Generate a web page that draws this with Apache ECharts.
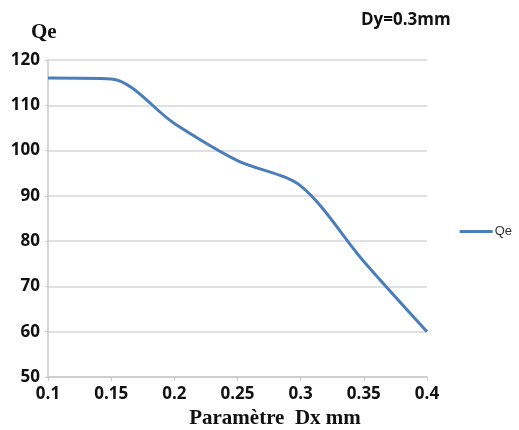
<!DOCTYPE html>
<html><head><meta charset="utf-8">
<script src="https://cdn.jsdelivr.net/npm/echarts@6/dist/echarts.min.js"></script>
<style>html,body{margin:0;padding:0;background:#fff}#c{width:519px;height:430px}</style>
</head><body><div id="c"></div>
<script>
const dx = [0.1, 0.15, 0.2, 0.25, 0.3, 0.35, 0.4];
const qe = [116, 115.8, 106, 97.8, 92.2, 75.5, 60];
const yTicks = [50, 60, 70, 80, 90, 100, 110, 120];
const xTicks = [0.1, 0.15, 0.2, 0.25, 0.3, 0.35, 0.4];

const chart = echarts.init(document.getElementById('c'));
chart.setOption({
  animation: false,
  title: [
    {text: 'Qe', left: 26, top: 17, textStyle: {fontFamily: 'Liberation Serif', fontWeight: 'bold', fontSize: 21, color: '#111'}},
    {text: 'Dy=0.3mm', left: 356, top: 7, textStyle: {fontFamily: 'Open Sans', fontWeight: 'bold', fontSize: 17, color: '#111'}}
  ],
  legend: {
    data: ['Qe'], right: 2, top: 220, orient: 'vertical', icon: 'rect',
    itemWidth: 33, itemHeight: 3, itemGap: 3,
    textStyle: {fontFamily: 'Liberation Sans', fontSize: 13, color: '#333', padding: [0,0,0,-3]}
  },
  grid: {left: 48, right: 92, top: 60, bottom: 53, containLabel: false, outerBoundsMode: 'none'},
  xAxis: {
    type: 'value', min: 0.1, max: 0.4, interval: 0.05,
    name: 'Paramètre  Dx mm', nameLocation: 'middle', nameGap: 30,
    nameTextStyle: {fontFamily: 'Liberation Serif', fontWeight: 'bold', fontSize: 21, color: '#111', padding: [0,0,0,75]},
    axisLine: {lineStyle: {color: '#c8c8c8', width: 1.5}},
    axisTick: {show: true, length: 4, lineStyle: {color: '#c8c8c8'}},
    splitLine: {show: false},
    axisLabel: {fontFamily: 'Open Sans', fontWeight: 'bold', fontSize: 17, color: '#111', margin: 9,
      formatter: v => { const t = xTicks.find(x => Math.abs(x - v) < 1e-9); return t === undefined ? '' : String(t); }}
  },
  yAxis: {
    type: 'value', min: 50, max: 120, interval: 10,
    axisLine: {show: true, lineStyle: {color: '#c8c8c8', width: 1.5}},
    axisTick: {show: true, length: 3, lineStyle: {color: '#c8c8c8'}},
    splitLine: {lineStyle: {color: '#d6d6d6', width: 1.5}},
    axisLabel: {fontFamily: 'Open Sans', fontWeight: 'bold', fontSize: 17, color: '#111', margin: 8,
      formatter: v => yTicks.includes(v) ? String(v) : ''}
  },
  series: [{
    name: 'Qe', type: 'line', smooth: 0.3, showSymbol: false,
    data: dx.map((x, i) => [x, qe[i]]),
    lineStyle: {color: '#4a7ebb', width: 3},
    itemStyle: {color: '#4a7ebb'}
  }]
});
</script></body></html>
